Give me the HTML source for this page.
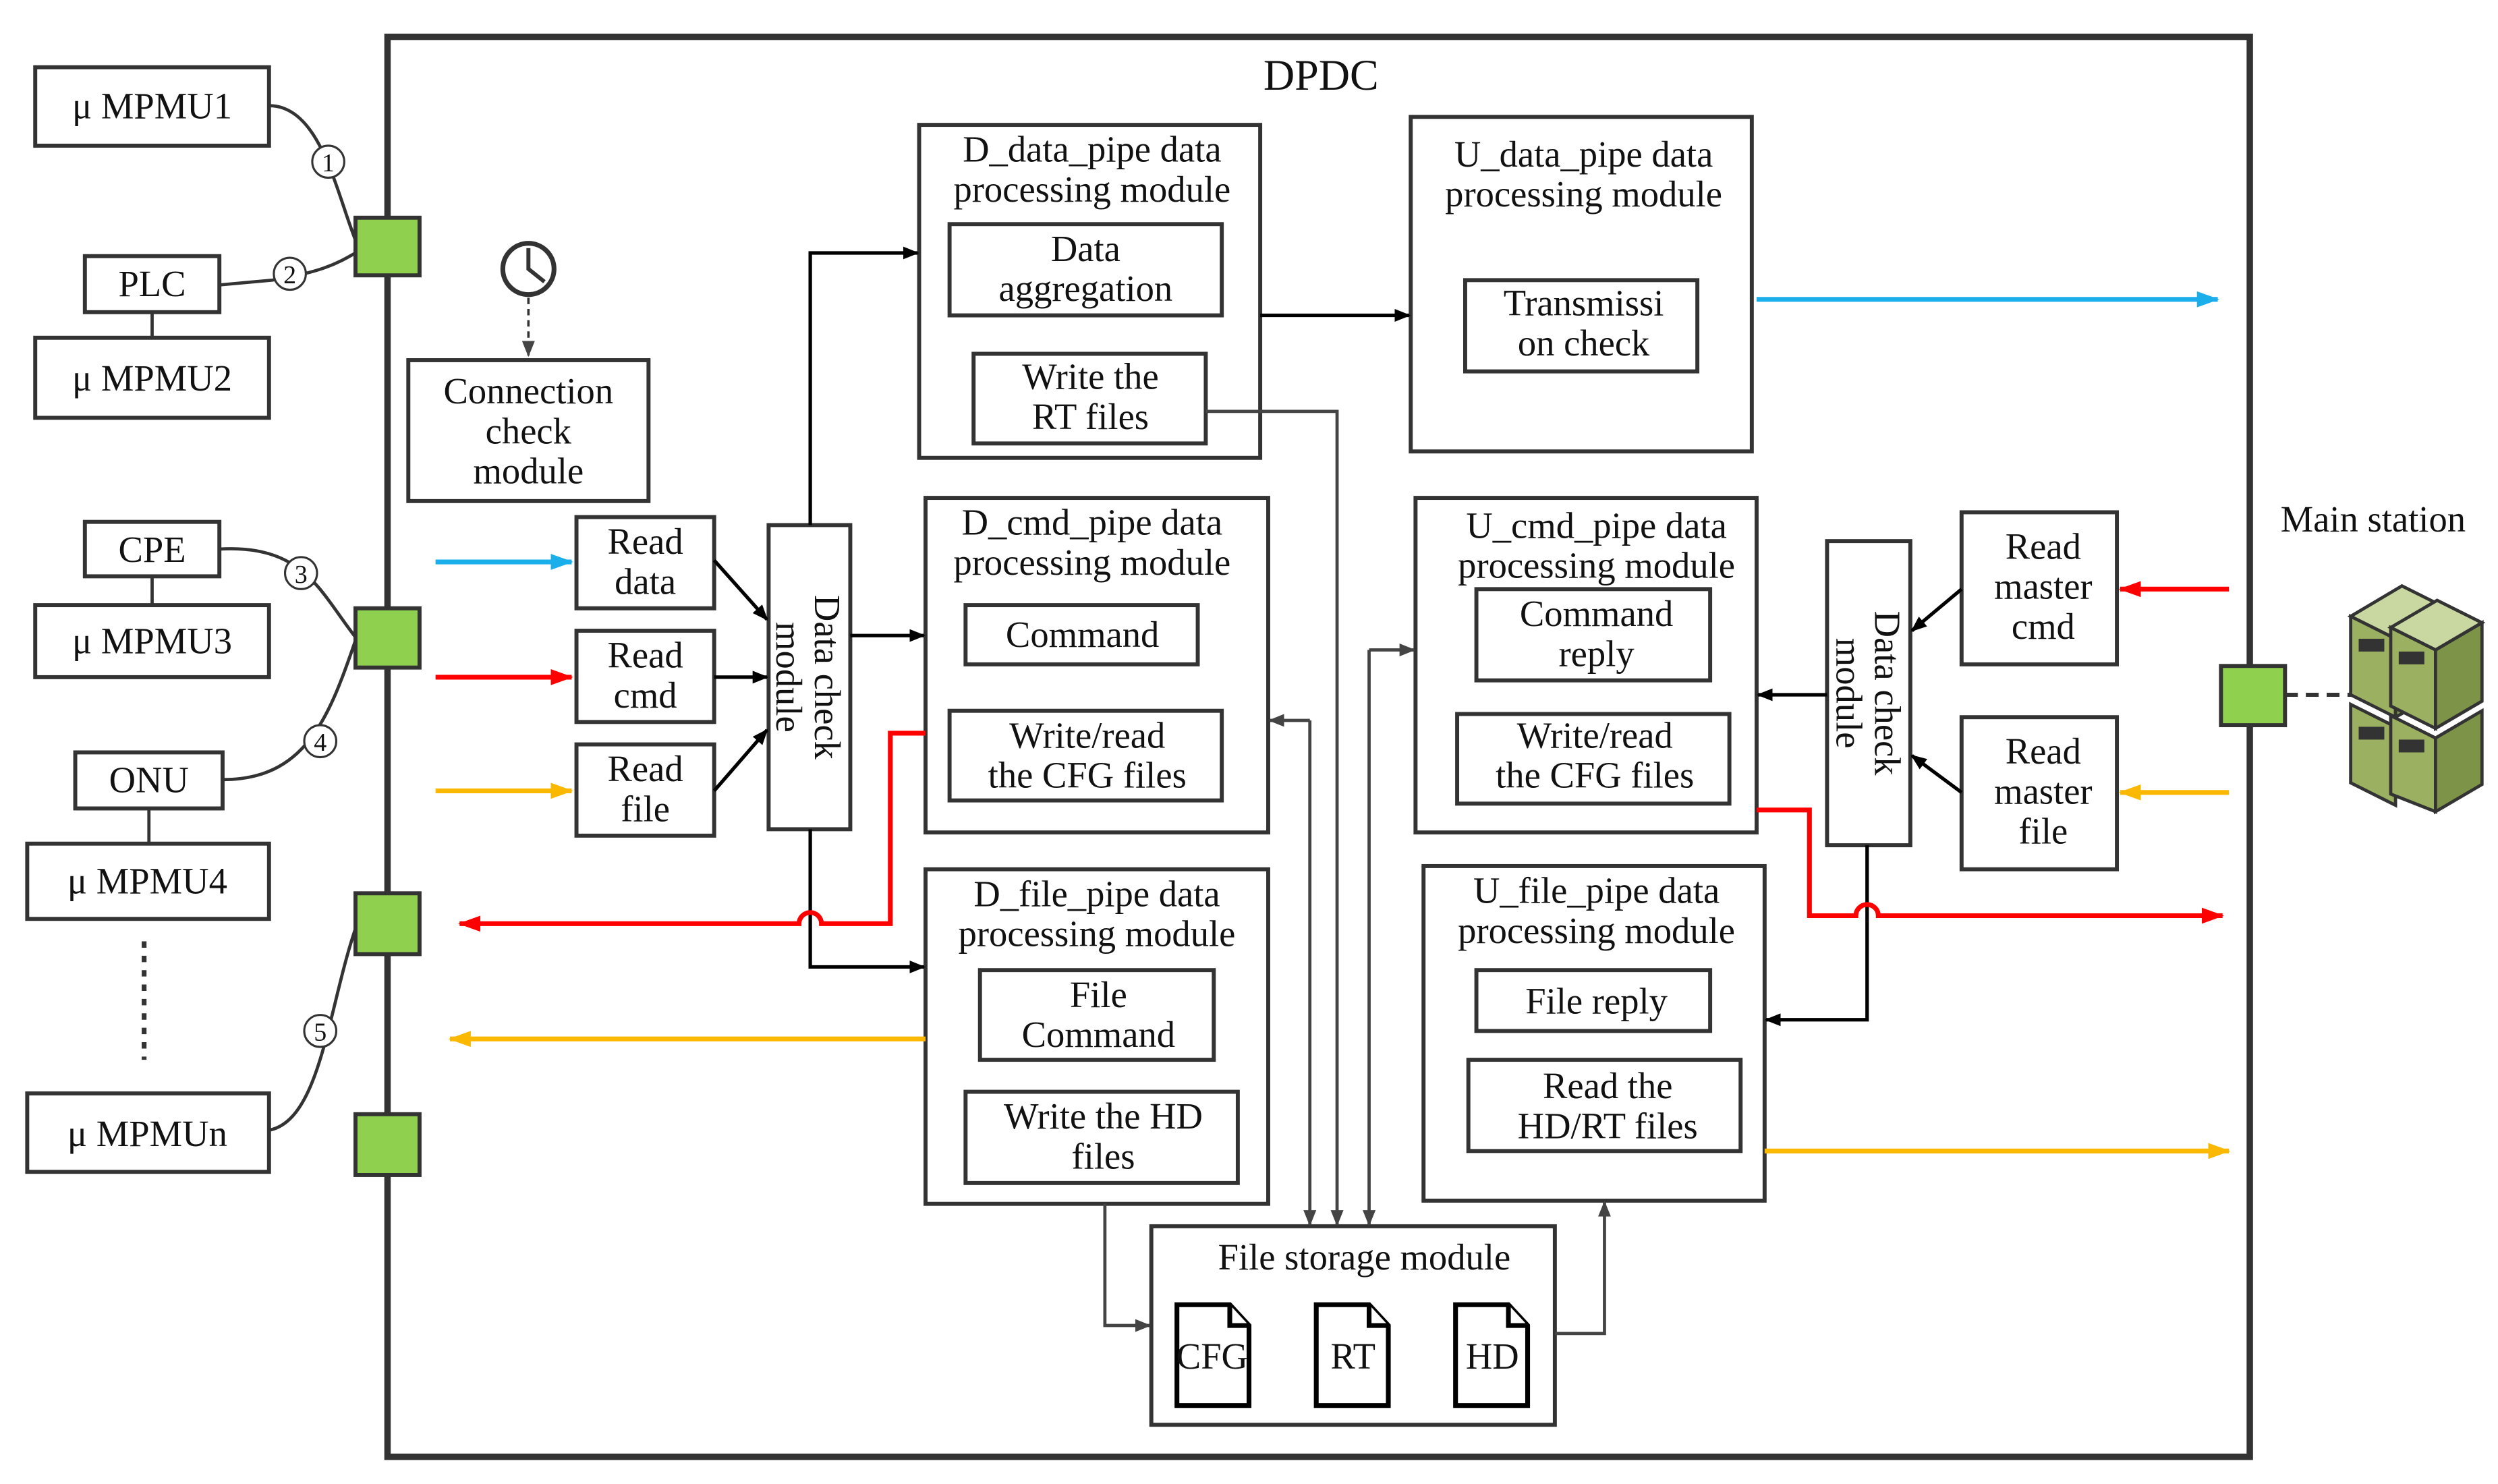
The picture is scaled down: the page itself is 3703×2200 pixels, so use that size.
<!DOCTYPE html>
<html><head><meta charset="utf-8"><style>
html,body{margin:0;padding:0;background:#fff}
svg{display:block}
text{font-family:"Liberation Serif",serif;fill:#111}
</style></head><body>
<svg width="3703" height="2200" viewBox="0 0 1560 927" preserveAspectRatio="none" xmlns="http://www.w3.org/2000/svg">
<defs>
<marker id="ak" markerWidth="10" markerHeight="8" refX="9" refY="4" orient="auto" markerUnits="userSpaceOnUse"><path d="M0,0 L10,4 L0,8 z" fill="#000"/></marker>
<marker id="ag" markerWidth="10" markerHeight="8" refX="9" refY="4" orient="auto" markerUnits="userSpaceOnUse"><path d="M0,0 L10,4 L0,8 z" fill="#444"/></marker>
<marker id="ab" markerWidth="14" markerHeight="10" refX="13" refY="5" orient="auto" markerUnits="userSpaceOnUse"><path d="M0,0 L14,5 L0,10 z" fill="#1aaeea"/></marker>
<marker id="ar" markerWidth="14" markerHeight="10" refX="13" refY="5" orient="auto" markerUnits="userSpaceOnUse"><path d="M0,0 L14,5 L0,10 z" fill="#f00"/></marker>
<marker id="ay" markerWidth="14" markerHeight="10" refX="13" refY="5" orient="auto" markerUnits="userSpaceOnUse"><path d="M0,0 L14,5 L0,10 z" fill="#fbb800"/></marker>
</defs>
<g fill="none" stroke="#333" stroke-width="2.5">
<rect x="242" y="23" width="1163" height="887" stroke-width="4"/>
<rect x="22" y="42" width="146" height="49"/>
<rect x="53" y="160" width="84" height="35"/>
<rect x="22" y="211" width="146" height="50"/>
<line x1="95" y1="195" x2="95" y2="211" stroke-width="2"/>
<rect x="53" y="326" width="84" height="34"/>
<rect x="22" y="378" width="146" height="45"/>
<line x1="95" y1="360" x2="95" y2="378" stroke-width="2"/>
<rect x="47" y="470" width="92" height="35"/>
<rect x="17" y="527" width="151" height="47"/>
<line x1="93" y1="505" x2="93" y2="527" stroke-width="2"/>
<rect x="17" y="683" width="151" height="49"/>
<line x1="90" y1="588" x2="90" y2="662" stroke-dasharray="4,5" stroke-width="3"/>
<path d="M168,66 C200,66 210,120 222,150" stroke-width="2"/>
<path d="M137,178 L170,175 C200,170 210,165 222,158" stroke-width="2"/>
<path d="M137,343 C190,340 200,370 222,398" stroke-width="2"/>
<path d="M139,487 C190,487 205,450 222,400" stroke-width="2"/>
<path d="M168,706 C200,700 205,630 222,580" stroke-width="2"/>
<rect x="255" y="225" width="150" height="88"/>
<rect x="360" y="323" width="86" height="57"/>
<rect x="360" y="394" width="86" height="57"/>
<rect x="360" y="465" width="86" height="57"/>
<rect x="480" y="328" width="51" height="190"/>
<rect x="574" y="78" width="213" height="208"/>
<rect x="593" y="140" width="170" height="57"/>
<rect x="608" y="221" width="145" height="56"/>
<rect x="881" y="73" width="213" height="209"/>
<rect x="915" y="175" width="145" height="57"/>
<rect x="578" y="311" width="214" height="209"/>
<rect x="603" y="378" width="145" height="37"/>
<rect x="593" y="444" width="170" height="56"/>
<rect x="578" y="543" width="214" height="209"/>
<rect x="612" y="606" width="146" height="56"/>
<rect x="603" y="682" width="170" height="57"/>
<rect x="884" y="311" width="213" height="209"/>
<rect x="922" y="368" width="146" height="57"/>
<rect x="910" y="446" width="170" height="56"/>
<rect x="1141" y="338" width="52" height="190"/>
<rect x="1225" y="320" width="97" height="95"/>
<rect x="1225" y="448" width="97" height="95"/>
<rect x="889" y="541" width="213" height="209"/>
<rect x="922" y="606" width="146" height="38"/>
<rect x="917" y="662" width="170" height="57"/>
<rect x="719" y="766" width="252" height="124"/>
<circle cx="330" cy="168" r="16" stroke-width="3"/>
<path d="M330,155 L330,168 L340,176" stroke-width="2.5"/>
</g>
<g fill="#fff" stroke="#333" stroke-width="1.3">
<circle cx="205" cy="101" r="10"/><circle cx="181" cy="171" r="10"/><circle cx="188" cy="358" r="10"/><circle cx="200" cy="463" r="10"/><circle cx="200" cy="644" r="10"/>
</g>
<line x1="330" y1="186" x2="330" y2="222" stroke="#333" stroke-width="1.5" stroke-dasharray="4,3" marker-end="url(#ag)"/>
<g fill="#fff" stroke="#000" stroke-width="3">
<path d="M735,815 L768,815 L780,828 L780,878 L735,878 z"/><path d="M768,815 L768,828 L780,828"/>
<path d="M822,815 L855,815 L867,828 L867,878 L822,878 z"/><path d="M855,815 L855,828 L867,828"/>
<path d="M909,815 L942,815 L954,828 L954,878 L909,878 z"/><path d="M942,815 L942,828 L954,828"/>
</g>
<g fill="#8fd14f" stroke="#333" stroke-width="2.5">
<rect x="222" y="136" width="40" height="36"/>
<rect x="222" y="380" width="40" height="37"/>
<rect x="222" y="558" width="40" height="38"/>
<rect x="222" y="696" width="40" height="38"/>
<rect x="1387" y="416" width="40" height="37"/>
</g>
<line x1="1427" y1="434" x2="1470" y2="434" stroke="#333" stroke-width="2.5" stroke-dasharray="8,5"/>
<g stroke="#333" stroke-width="2">
<polygon points="1468,385 1500,366 1528,380 1496,399" fill="#c8d8a0"/>
<polygon points="1468,385 1496,399 1496,448 1468,434" fill="#9bb060"/>
<polygon points="1496,399 1528,380 1528,430 1496,448" fill="#7d9448"/>
<polygon points="1493,392 1522,375 1550,389 1521,406" fill="#c8d8a0"/>
<polygon points="1493,392 1521,406 1521,455 1493,441" fill="#9bb060"/>
<polygon points="1521,406 1550,389 1550,438 1521,455" fill="#7d9448"/>
<polygon points="1468,440 1496,454 1496,503 1468,489" fill="#9bb060"/>
<polygon points="1493,447 1521,461 1521,507 1493,496" fill="#9bb060"/>
<polygon points="1521,461 1550,444 1550,490 1521,507" fill="#7d9448"/>
<rect x="1474" y="400" width="14" height="6" fill="#333"/><rect x="1499" y="408" width="14" height="6" fill="#333"/>
<rect x="1474" y="455" width="14" height="6" fill="#333"/><rect x="1499" y="463" width="14" height="6" fill="#333"/>
</g>
<g fill="none" stroke="#000" stroke-width="2.2">
<line x1="446" y1="350" x2="479" y2="387" marker-end="url(#ak)"/>
<line x1="446" y1="423" x2="479" y2="423" marker-end="url(#ak)"/>
<line x1="446" y1="494" x2="479" y2="456" marker-end="url(#ak)"/>
<path d="M506,328 L506,158 L573,158" marker-end="url(#ak)"/>
<line x1="531" y1="397" x2="577" y2="397" marker-end="url(#ak)"/>
<path d="M506,518 L506,604 L577,604" marker-end="url(#ak)"/>
<line x1="787" y1="197" x2="880" y2="197" marker-end="url(#ak)"/>
<line x1="1225" y1="368" x2="1194" y2="394" marker-end="url(#ak)"/>
<line x1="1225" y1="495" x2="1194" y2="472" marker-end="url(#ak)"/>
<line x1="1141" y1="434" x2="1098" y2="434" marker-end="url(#ak)"/>
<path d="M1166,528 L1166,637 L1103,637" marker-end="url(#ak)"/>
</g>
<g fill="none" stroke="#444" stroke-width="2">
<path d="M753,257 L835,257 L835,765" marker-end="url(#ag)"/>
<path d="M818,450 L818,765" marker-end="url(#ag)"/>
<path d="M818,450 L793,450" marker-end="url(#ag)"/>
<path d="M855,406 L855,765" marker-end="url(#ag)"/>
<path d="M855,406 L883,406" marker-end="url(#ag)"/>
<path d="M690,752 L690,828 L718,828" marker-end="url(#ag)"/>
<path d="M971,833 L1002,833 L1002,751" marker-end="url(#ag)"/>
</g>
<g fill="none" stroke-width="3">
<line x1="272" y1="351" x2="357" y2="351" stroke="#1aaeea" marker-end="url(#ab)"/>
<line x1="272" y1="423" x2="357" y2="423" stroke="#f00" marker-end="url(#ar)"/>
<line x1="272" y1="494" x2="357" y2="494" stroke="#fbb800" marker-end="url(#ay)"/>
<line x1="1097" y1="187" x2="1385" y2="187" stroke="#1aaeea" marker-end="url(#ab)"/>
<line x1="1392" y1="368" x2="1324" y2="368" stroke="#f00" marker-end="url(#ar)"/>
<line x1="1392" y1="495" x2="1324" y2="495" stroke="#fbb800" marker-end="url(#ay)"/>
<path d="M578,458 L556,458 L556,577 L513,577 A7,7 0 0 0 499,577 L287,577" stroke="#f00" marker-end="url(#ar)"/>
<line x1="578" y1="649" x2="281" y2="649" stroke="#fbb800" marker-end="url(#ay)"/>
<path d="M1097,506 L1130,506 L1130,572 L1159,572 A7,7 0 0 1 1173,572 L1388,572" stroke="#f00" marker-end="url(#ar)"/>
<line x1="1102" y1="719" x2="1392" y2="719" stroke="#fbb800" marker-end="url(#ay)"/>
</g>
<g font-size="23" text-anchor="middle">
<text x="825" y="56" font-size="27">DPDC</text>
<text x="95" y="74">μ MPMU1</text>
<text x="95" y="185">PLC</text>
<text x="95" y="244">μ MPMU2</text>
<text x="95" y="351">CPE</text>
<text x="95" y="408">μ MPMU3</text>
<text x="93" y="495">ONU</text>
<text x="92" y="558">μ MPMU4</text>
<text x="92" y="716">μ MPMUn</text>
<text x="205" y="107" font-size="16">1</text>
<text x="181" y="177" font-size="16">2</text>
<text x="188" y="364" font-size="16">3</text>
<text x="200" y="469" font-size="16">4</text>
<text x="200" y="650" font-size="16">5</text>
<text x="330" y="252">Connection</text><text x="330" y="277">check</text><text x="330" y="302">module</text>
<text x="403" y="346">Read</text><text x="403" y="371">data</text>
<text x="403" y="417">Read</text><text x="403" y="442">cmd</text>
<text x="403" y="488">Read</text><text x="403" y="513">file</text>
<text transform="translate(505,423) rotate(90)" x="0" y="-4">Data check</text>
<text transform="translate(505,423) rotate(90)" x="0" y="20">module</text>
<text transform="translate(1167,433) rotate(90)" x="0" y="-4">Data check</text>
<text transform="translate(1167,433) rotate(90)" x="0" y="20">module</text>
<text x="682" y="101">D_data_pipe data</text><text x="682" y="126">processing module</text>
<text x="678" y="163">Data</text><text x="678" y="188">aggregation</text>
<text x="681" y="243">Write the</text><text x="681" y="268">RT files</text>
<text x="989" y="104">U_data_pipe data</text><text x="989" y="129">processing module</text>
<text x="989" y="197">Transmissi</text><text x="989" y="222">on check</text>
<text x="682" y="334">D_cmd_pipe data</text><text x="682" y="359">processing module</text>
<text x="676" y="404">Command</text>
<text x="679" y="467">Write/read</text><text x="679" y="492">the CFG files</text>
<text x="685" y="566">D_file_pipe data</text><text x="685" y="591">processing module</text>
<text x="686" y="629">File</text><text x="686" y="654">Command</text>
<text x="689" y="705">Write the HD</text><text x="689" y="730">files</text>
<text x="997" y="336">U_cmd_pipe data</text><text x="997" y="361">processing module</text>
<text x="997" y="391">Command</text><text x="997" y="416">reply</text>
<text x="996" y="467">Write/read</text><text x="996" y="492">the CFG files</text>
<text x="1276" y="349">Read</text><text x="1276" y="374">master</text><text x="1276" y="399">cmd</text>
<text x="1276" y="477">Read</text><text x="1276" y="502">master</text><text x="1276" y="527">file</text>
<text x="997" y="564">U_file_pipe data</text><text x="997" y="589">processing module</text>
<text x="997" y="633">File reply</text>
<text x="1004" y="686">Read the</text><text x="1004" y="711">HD/RT files</text>
<text x="852" y="793">File storage module</text>
<text x="757" y="855">CFG</text><text x="845" y="855">RT</text><text x="932" y="855">HD</text>
<text x="1482" y="332">Main station</text>
</g>
</svg>
</body></html>
